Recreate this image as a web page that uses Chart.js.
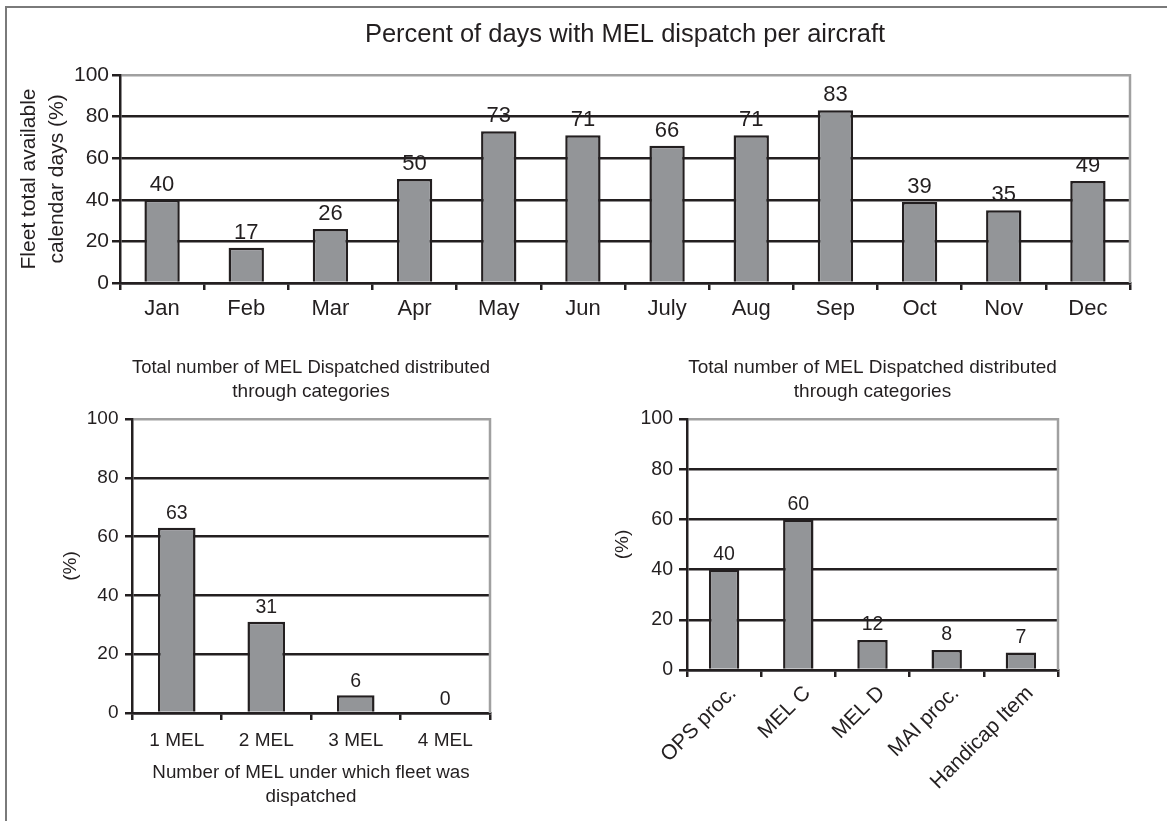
<!DOCTYPE html>
<html>
<head>
<meta charset="utf-8">
<title>MEL dispatch statistics</title>
<script src="https://cdn.jsdelivr.net/npm/chart.js@4.4.1/dist/chart.umd.min.js"></script>
<style>
  html, body { margin: 0; padding: 0; background: #ffffff; }
  #page { position: relative; width: 1167px; height: 821px; overflow: hidden; background: #ffffff; }
  #frame { position: absolute; left: 5px; top: 6px; width: 1300px; height: 900px;
           border-top: 2px solid #7a7a7a; border-left: 2px solid #7a7a7a; }
  canvas { position: absolute; display: block; }
</style>
</head>
<body>
<div id="page">
  <div id="frame"></div>
  <canvas id="monthlyChart" width="1167" height="330" style="left:0;top:0"></canvas>
  <canvas id="melCountChart" width="590" height="481" style="left:0;top:340px"></canvas>
  <canvas id="categoryChart" width="577" height="481" style="left:590px;top:340px"></canvas>
</div>
<script>
// ---- data ----
const months = ['Jan', 'Feb', 'Mar', 'Apr', 'May', 'Jun', 'July', 'Aug', 'Sep', 'Oct', 'Nov', 'Dec'];
const monthlyDispatchPct = [40, 17, 26, 50, 73, 71, 66, 71, 83, 39, 35, 49];

const melCountLabels = ['1 MEL', '2 MEL', '3 MEL', '4 MEL'];
const melCountPct = [63, 31, 6, 0];

const categoryLabels = ['OPS proc.', 'MEL C', 'MEL D', 'MAI proc.', 'Handicap Item'];
const categoryPct = [40, 60, 12, 8, 7];

const percentAxisMin = 0;
const percentAxisMax = 100;
const percentAxisStep = 20;

// ---- styling ----
const FONT = "'Liberation Sans', Arial, Helvetica, sans-serif";
const INK = '#231f20';
const BAR_FILL = '#939598';
const FRAME_GRAY = '#a0a0a0';
const LINE_W = 2.5;

Chart.defaults.font.family = FONT;
Chart.defaults.color = INK;

// Values printed above each bar (drawn first so the grid lines sit on top, as in print)
const valueLabels = {
  id: 'valueLabels',
  beforeDraw(chart, args, opts) {
    const ctx = chart.ctx;
    const meta = chart.getDatasetMeta(0);
    const values = chart.data.datasets[0].data;
    ctx.save();
    ctx.font = opts.size + 'px ' + FONT;
    ctx.fillStyle = INK;
    ctx.textAlign = 'center';
    ctx.textBaseline = 'alphabetic';
    meta.data.forEach((bar, i) => {
      ctx.fillText(String(values[i]), bar.x, bar.y - opts.gap);
    });
    ctx.restore();
  }
};

// Light gray edge on the right side of the plot area
const plotEdge = {
  id: 'plotEdge',
  afterDraw(chart) {
    const { ctx, chartArea } = chart;
    ctx.save();
    ctx.strokeStyle = FRAME_GRAY;
    ctx.lineWidth = LINE_W;
    ctx.beginPath();
    ctx.moveTo(chartArea.right, chartArea.top - 1);
    ctx.lineTo(chartArea.right, chartArea.bottom);
    ctx.stroke();
    ctx.restore();
  }
};

function barChart(canvasId, cfg) {
  return new Chart(document.getElementById(canvasId), {
    type: 'bar',
    data: {
      labels: cfg.labels,
      datasets: [{
        data: cfg.values,
        backgroundColor: BAR_FILL,
        borderColor: INK,
        borderWidth: LINE_W,
        borderSkipped: 'start',
        barPercentage: cfg.barPercentage,
        categoryPercentage: 1
      }]
    },
    options: {
      responsive: false,
      animation: false,
      events: [],
      layout: { padding: { left: 0, right: cfg.rightPad, top: 0, bottom: 0 } },
      plugins: {
        legend: { display: false },
        tooltip: { enabled: false },
        title: {
          display: true,
          fullSize: false,
          text: cfg.title,
          color: INK,
          font: { size: cfg.titleSize, weight: 'normal', lineHeight: cfg.titleLineHeight },
          padding: cfg.titlePadding
        },
        valueLabels: { size: cfg.valueSize, gap: cfg.valueGap }
      },
      scales: {
        x: {
          type: 'category',
          offset: true,
          afterFit(scale) { scale.height = cfg.xHeight; },
          grid: {
            display: true,
            drawOnChartArea: false,
            drawTicks: true,
            offset: true,
            tickLength: 7,
            color: INK,
            tickColor: INK,
            lineWidth: LINE_W,
            tickWidth: LINE_W
          },
          border: { display: true, color: INK, width: LINE_W },
          ticks: {
            color: INK,
            font: { size: cfg.xTickSize },
            padding: cfg.xTickPad,
            labelOffset: cfg.xLabelOffset || 0,
            autoSkip: false,
            maxRotation: cfg.xRotation,
            minRotation: cfg.xRotation
          },
          title: cfg.xTitle ? {
            display: true,
            text: cfg.xTitle,
            color: INK,
            font: { size: cfg.xTitleSize, lineHeight: cfg.xTitleLineHeight },
            padding: { top: 0, bottom: cfg.xTitlePadBottom }
          } : { display: false }
        },
        y: {
          min: percentAxisMin,
          max: percentAxisMax,
          afterFit(scale) { scale.width = cfg.yWidth; },
          grid: {
            drawTicks: true,
            tickLength: cfg.yTickLength,
            lineWidth: LINE_W,
            tickWidth: LINE_W,
            color: (c) => (c.tick && c.tick.value === percentAxisMax) ? FRAME_GRAY : INK,
            tickColor: INK
          },
          border: { display: true, color: INK, width: LINE_W },
          ticks: {
            stepSize: percentAxisStep,
            color: INK,
            font: { size: cfg.yTickSize },
            padding: cfg.yTickPad
          },
          title: {
            display: true,
            text: cfg.yTitle,
            color: INK,
            font: { size: cfg.yTitleSize, lineHeight: cfg.yTitleLineHeight },
            padding: { top: cfg.yTitlePadTop, bottom: 0 }
          }
        }
      }
    },
    plugins: [valueLabels, plotEdge]
  });
}

// Monthly share of days dispatched under MEL
barChart('monthlyChart', {
  labels: months,
  values: monthlyDispatchPct,
  barPercentage: 0.42,
  rightPad: 37,
  title: 'Percent of days with MEL dispatch per aircraft',
  titleSize: 25.5, titleLineHeight: 1.2, titlePadding: { top: 19.6, bottom: 24.8 },
  valueSize: 22, valueGap: 9,
  xHeight: 47, xTickSize: 22, xTickPad: 6, xRotation: 0,
  yWidth: 120, yTickLength: 8, yTickSize: 21, yTickPad: 3,
  yTitle: ['Fleet total available', 'calendar days (%)'],
  yTitleSize: 21, yTitleLineHeight: 1.35, yTitlePadTop: 15
});

// Distribution by number of simultaneous MEL items
barChart('melCountChart', {
  labels: melCountLabels,
  values: melCountPct,
  barPercentage: 0.42,
  rightPad: 100,
  title: ['Total number of MEL Dispatched distributed', 'through categories'],
  titleSize: 19, titleLineHeight: 1.263, titlePadding: { top: 16, bottom: 15 },
  valueSize: 19.5, valueGap: 8.5,
  xHeight: 108, xTickSize: 19, xTickPad: 9, xRotation: 0,
  xTitle: ['Number of MEL under which fleet was', 'dispatched'],
  xTitleSize: 18.8, xTitleLineHeight: 1.25, xTitlePadBottom: 12.5,
  yWidth: 132, yTickLength: 7, yTickSize: 19, yTickPad: 6.5,
  yTitle: '(%)', yTitleSize: 19, yTitleLineHeight: 1.2, yTitlePadTop: 59
});

// Distribution by dispatch category
barChart('categoryChart', {
  labels: categoryLabels,
  values: categoryPct,
  barPercentage: 0.41,
  rightPad: 109,
  title: ['Total number of MEL Dispatched distributed', 'through categories'],
  titleSize: 19, titleLineHeight: 1.263, titlePadding: { top: 16, bottom: 15 },
  valueSize: 19.5, valueGap: 9.5,
  xHeight: 151, xTickSize: 21, xTickPad: 4, xLabelOffset: 9, xRotation: 45,
  yWidth: 97, yTickLength: 8, yTickSize: 19.5, yTickPad: 6,
  yTitle: '(%)', yTitleSize: 19, yTitleLineHeight: 1.2, yTitlePadTop: 21
});
</script>
</body>
</html>
